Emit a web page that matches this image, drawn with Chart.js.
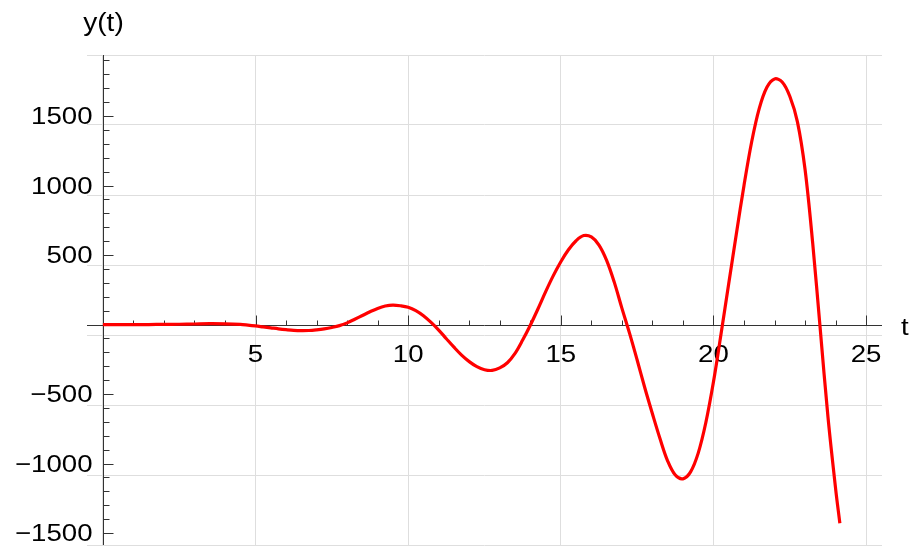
<!DOCTYPE html>
<html>
<head>
<meta charset="utf-8">
<script src="https://cdn.jsdelivr.net/npm/chart.js@4.4.0/dist/chart.umd.min.js"></script>
<style>
    html, body { margin: 0; padding: 0; background: #ffffff; }
    #wrap { width: 914px; height: 548px; }
</style>
</head>
<body>
<div id="wrap"><canvas id="chart" width="914" height="548"></canvas></div>
<script>
// Curve samples (t, y(t))
const T_VALUES = [0, 0.5, 1, 1.5, 2, 2.5, 3, 3.5, 4, 4.5,
    4.75, 5, 5.25, 5.5, 5.75, 6, 6.25, 6.5, 6.75, 7, 7.25, 7.5, 7.75,
    8, 8.25, 8.5, 8.75, 9, 9.25, 9.5, 9.75, 10, 10.25, 10.5, 10.75,
    11, 11.25, 11.5, 11.75, 12, 12.25, 12.5, 12.75, 13, 13.25, 13.5, 13.75,
    14, 14.25, 14.5, 14.75, 15, 15.25, 15.5, 15.75, 16, 16.25, 16.5, 16.75,
    17, 17.25, 17.5, 17.75, 18, 18.25, 18.5, 18.75, 19, 19.25, 19.5, 19.75,
    20, 20.25, 20.5, 20.75, 21, 21.25, 21.5, 21.75, 22, 22.25, 22.5, 22.75,
    23, 23.25, 23.5, 23.75, 24, 24.14];
const Y_VALUES = [0, 0, 0, 0, 1, 2, 4, 6, 5, 1,
    -4, -10, -17, -24, -31, -37, -42, -44, -43, -38, -31, -21, -8,
    12, 38, 65, 92, 116, 133, 140, 135, 124, 100, 63, 15,
    -40, -102, -163, -220, -267, -303, -325, -330, -312, -275, -208, -112,
    -5, 112, 235, 350, 452, 538, 603, 640, 630, 572, 462, 305,
    118, -62, -255, -455, -642, -822, -982, -1083, -1110, -1060, -925, -705,
    -412, -65, 295, 653, 1001, 1313, 1555, 1707, 1767, 1745, 1642, 1458,
    1115, 585, -40, -665, -1180, -1430];

// Axis ticks
const X_MAJOR_TICKS = [5, 10, 15, 20, 25];
const X_MINOR_TICKS = [1, 2, 3, 4, 6, 7, 8, 9, 11, 12, 13, 14, 16, 17, 18, 19, 21, 22, 23, 24];
const Y_MAJOR_TICKS = [-1500, -1000, -500, 500, 1000, 1500];
const Y_MINOR_TICKS = [-1400, -1300, -1200, -1100, -900, -800, -700, -600, -400, -300, -200, -100,
    100, 200, 300, 400, 600, 700, 800, 900, 1100, 1200, 1300, 1400, 1600, 1700, 1800, 1900];
const X_AXIS_LABEL = 't';
const Y_AXIS_LABEL = 'y(t)';

const X_RANGE = [-0.52, 25.52];
const Y_RANGE = [-1586, 1939];

const AXIS_COLOR = '#333333';
const GRID_COLOR = '#dedede';
const FONT_FAMILY = '"Liberation Sans", Arial, sans-serif';

function fmt(v) {
    return v < 0 ? '\u2212' + Math.abs(v) : String(v);
}

// text drawn slightly wide, like the exported original
function wideText(ctx, text, x, y, stretch) {
    ctx.save();
    ctx.translate(x, y);
    ctx.scale(stretch, 1);
    ctx.fillText(text, 0, 0);
    ctx.restore();
}

// Mathematica-style axes crossing at the origin, ticks pointing inward
const originAxes = {
    id: 'originAxes',
    beforeDatasetsDraw(chart) {
        const { ctx, chartArea, scales } = chart;
        const xs = scales.x, ys = scales.y;
        const x0 = Math.round(xs.getPixelForValue(0)) + 0.5;
        const y0 = Math.round(ys.getPixelForValue(0)) + 0.5;

        ctx.save();
        ctx.strokeStyle = AXIS_COLOR;
        ctx.lineWidth = 1;
        ctx.beginPath();
        ctx.moveTo(chartArea.left, y0);
        ctx.lineTo(chartArea.right, y0);
        ctx.moveTo(x0, chartArea.top);
        ctx.lineTo(x0, chartArea.bottom);

        X_MAJOR_TICKS.forEach(v => {
            const px = Math.round(xs.getPixelForValue(v)) + 0.5;
            ctx.moveTo(px, y0); ctx.lineTo(px, y0 - 10);
        });
        X_MINOR_TICKS.forEach(v => {
            const px = Math.round(xs.getPixelForValue(v)) + 0.5;
            ctx.moveTo(px, y0); ctx.lineTo(px, y0 - 5);
        });
        Y_MAJOR_TICKS.forEach(v => {
            const py = Math.round(ys.getPixelForValue(v)) + 0.5;
            ctx.moveTo(x0, py); ctx.lineTo(x0 + 10, py);
        });
        Y_MINOR_TICKS.forEach(v => {
            const py = Math.round(ys.getPixelForValue(v)) + 0.5;
            ctx.moveTo(x0, py); ctx.lineTo(x0 + 6, py);
        });
        ctx.stroke();

        ctx.fillStyle = '#000000';
        ctx.font = '24px ' + FONT_FAMILY;
        ctx.textBaseline = 'middle';
        ctx.textAlign = 'center';
        X_MAJOR_TICKS.forEach(v => {
            wideText(ctx, fmt(v), xs.getPixelForValue(v), y0 + 30, 1.15);
        });
        ctx.textAlign = 'right';
        Y_MAJOR_TICKS.forEach(v => {
            wideText(ctx, fmt(v), x0 - 11, ys.getPixelForValue(v) + 1.5, 1.15);
        });

        // axis names
        ctx.textAlign = 'left';
        wideText(ctx, X_AXIS_LABEL, chartArea.right + 19, y0 + 2.5, 1.15);
        ctx.font = '26px ' + FONT_FAMILY;
        ctx.textAlign = 'center';
        ctx.textBaseline = 'alphabetic';
        wideText(ctx, Y_AXIS_LABEL, x0, 30.5, 1.08);
        ctx.restore();
    }
};

const points = T_VALUES.map((t, i) => ({ x: t, y: Y_VALUES[i] }));

new Chart(document.getElementById('chart').getContext('2d'), {
    type: 'line',
    data: {
        datasets: [{
            data: points,
            borderColor: '#ff0000',
            borderWidth: 3.2,
            pointRadius: 0,
            fill: false,
            tension: 0.35
        }]
    },
    options: {
        responsive: false,
        animation: false,
        devicePixelRatio: 1,
        layout: { padding: { left: 87, right: 32, top: 55, bottom: 3 } },
        plugins: {
            legend: { display: false },
            tooltip: { enabled: false }
        },
        scales: {
            x: {
                type: 'linear',
                min: X_RANGE[0],
                max: X_RANGE[1],
                border: { display: false },
                grid: { color: GRID_COLOR, drawTicks: false },
                ticks: { display: false, stepSize: 5, includeBounds: false }
            },
            y: {
                type: 'linear',
                min: Y_RANGE[0],
                max: Y_RANGE[1],
                border: { display: false },
                grid: { color: GRID_COLOR, drawTicks: false },
                ticks: { display: false, stepSize: 500, includeBounds: false }
            }
        }
    },
    plugins: [originAxes]
});
</script>
</body>
</html>
